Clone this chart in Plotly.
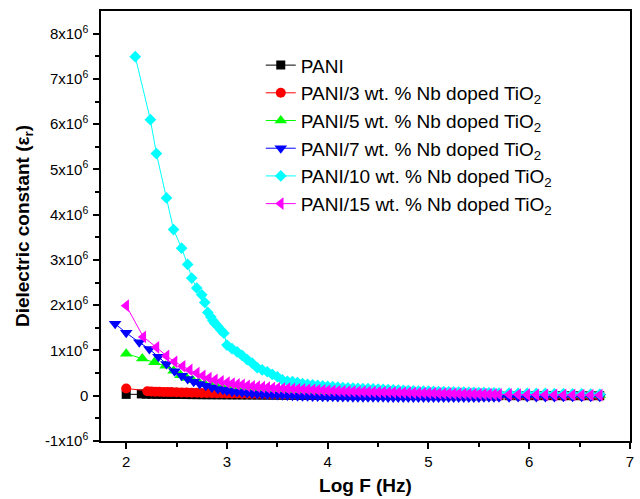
import plotly.graph_objects as go

# y values are in units of 10^6
TAIL_X = [3.00, 3.05, 3.10, 3.15, 3.20, 3.25, 3.30, 3.35, 3.40, 3.45, 3.50,
          3.55, 3.60, 3.65, 3.70, 3.75, 3.80, 3.85, 3.90, 3.95, 4.00, 4.05,
          4.10, 4.15, 4.20, 4.25, 4.30, 4.35, 4.40, 4.45, 4.50, 4.55, 4.60,
          4.65, 4.70, 4.75, 4.80, 4.85, 4.90, 4.95, 5.00, 5.05, 5.10, 5.15,
          5.20, 5.25, 5.30, 5.35, 5.40, 5.45, 5.50, 5.55, 5.60, 5.65, 5.70,
          5.80, 5.89, 5.98, 6.07, 6.16, 6.25, 6.34, 6.43, 6.52, 6.61, 6.70]

pani_x = [2.00, 2.15, 2.20, 2.25, 2.30, 2.35, 2.40, 2.45, 2.50, 2.55, 2.60, 2.65, 2.70, 2.75, 2.80, 2.85, 2.90, 2.95]
pani_y_head = [0.03, 0.04, 0.035, 0.033, 0.032, 0.031, 0.03, 0.029, 0.028, 0.027, 0.026, 0.025, 0.024, 0.023, 0.022, 0.022, 0.021, 0.021]
pani_y_tail = [0.02, 0.02, 0.019, 0.019, 0.018, 0.018, 0.017, 0.017, 0.016, 0.016, 0.015,
               0.015, 0.014, 0.014, 0.013, 0.013, 0.012, 0.012, 0.011, 0.011, 0.01, 0.01,
               0.01, 0.009, 0.009, 0.009, 0.008, 0.008, 0.008, 0.007, 0.007, 0.007, 0.006,
               0.006, 0.006, 0.006, 0.005, 0.005, 0.005, 0.005, 0.004, 0.004, 0.004, 0.004,
               0.003, 0.003, 0.003, 0.003, 0.003, 0.002, 0.002, 0.002, 0.002, 0.002, 0.002,
               0.001, 0.001, 0.001, 0.001, 0.001, 0.001, 0.0, 0.0, 0.0, 0.0, 0.0]

nb3_x = [2.00, 2.21, 2.25, 2.29, 2.33, 2.37, 2.41, 2.45, 2.50, 2.55, 2.60, 2.65, 2.70, 2.75, 2.80, 2.85, 2.90, 2.95]
nb3_y_head = [0.16, 0.10, 0.095, 0.09, 0.088, 0.085, 0.082, 0.08, 0.077, 0.074, 0.071, 0.068, 0.065, 0.062, 0.06, 0.058, 0.056, 0.054]
nb3_y_tail = [0.052, 0.05, 0.048, 0.046, 0.044, 0.042, 0.04, 0.038, 0.036, 0.034, 0.032,
              0.03, 0.029, 0.028, 0.027, 0.026, 0.025, 0.024, 0.023, 0.022, 0.021, 0.02,
              0.019, 0.018, 0.017, 0.016, 0.015, 0.014, 0.013, 0.012, 0.012, 0.011, 0.011,
              0.01, 0.01, 0.009, 0.009, 0.008, 0.008, 0.007, 0.007, 0.006, 0.006, 0.006,
              0.005, 0.005, 0.005, 0.004, 0.004, 0.004, 0.003, 0.003, 0.003, 0.003, 0.002,
              0.002, 0.002, 0.002, 0.002, 0.001, 0.001, 0.001, 0.001, 0.001, 0.0, 0.0]

nb5_x = [2.00, 2.16, 2.28, 2.39, 2.47, 2.54, 2.60, 2.66, 2.72, 2.78, 2.84, 2.90, 2.95]
nb5_y_head = [0.93, 0.82, 0.74, 0.66, 0.55, 0.45, 0.39, 0.34, 0.30, 0.26, 0.23, 0.20, 0.185]
nb5_y_tail = [0.17, 0.16, 0.15, 0.14, 0.135, 0.13, 0.12, 0.115, 0.11, 0.105, 0.10,
              0.097, 0.094, 0.091, 0.088, 0.085, 0.082, 0.08, 0.078, 0.076, 0.074, 0.072,
              0.07, 0.068, 0.066, 0.064, 0.062, 0.06, 0.058, 0.056, 0.054, 0.052, 0.05,
              0.049, 0.048, 0.047, 0.046, 0.045, 0.044, 0.043, 0.042, 0.041, 0.04, 0.039,
              0.038, 0.037, 0.036, 0.035, 0.034, 0.033, 0.032, 0.031, 0.03, 0.029, 0.028,
              0.027, 0.026, 0.025, 0.024, 0.023, 0.022, 0.021, 0.02, 0.019, 0.018, 0.017]

nb7_x = [1.89, 2.00, 2.13, 2.23, 2.32, 2.40, 2.48, 2.55, 2.61, 2.67, 2.73, 2.79, 2.85, 2.91, 2.96]
nb7_y_head = [1.59, 1.39, 1.18, 1.03, 0.86, 0.70, 0.54, 0.44, 0.37, 0.31, 0.26, 0.22, 0.18, 0.15, 0.13]
nb7_y_tail = [0.11, 0.09, 0.08, 0.07, 0.06, 0.05, 0.04, 0.035, 0.03, 0.02, 0.015,
              0.01, 0.005, 0.0, -0.005, -0.01, -0.012, -0.015, -0.018, -0.02, -0.022, -0.025,
              -0.027, -0.028, -0.03, -0.031, -0.032, -0.033, -0.034, -0.035, -0.036, -0.036, -0.037,
              -0.037, -0.038, -0.038, -0.039, -0.039, -0.04, -0.04, -0.04, -0.04, -0.04, -0.04,
              -0.04, -0.04, -0.039, -0.039, -0.038, -0.038, -0.037, -0.036, -0.035, -0.034, -0.033,
              -0.032, -0.03, -0.029, -0.028, -0.027, -0.026, -0.025, -0.024, -0.023, -0.022, -0.02]

nb10_x = [2.09, 2.24, 2.30, 2.40, 2.47, 2.55, 2.61, 2.65, 2.70, 2.75, 2.78, 2.81, 2.84, 2.86, 2.88, 2.91, 2.94, 2.97]
nb10_y_head = [7.49, 6.10, 5.35, 4.37, 3.67, 3.26, 2.90, 2.60, 2.38, 2.23, 2.06, 1.84, 1.74, 1.66, 1.60, 1.53, 1.45, 1.38]
nb10_y_tail = [1.12, 1.04, 0.97, 0.89, 0.80, 0.72, 0.62, 0.57, 0.53, 0.47, 0.42,
               0.35, 0.32, 0.31, 0.29, 0.27, 0.25, 0.24, 0.23, 0.22, 0.21, 0.20,
               0.19, 0.18, 0.175, 0.17, 0.165, 0.16, 0.155, 0.15, 0.145, 0.14, 0.135,
               0.13, 0.125, 0.12, 0.115, 0.11, 0.105, 0.10, 0.10, 0.095, 0.09, 0.09,
               0.085, 0.085, 0.08, 0.08, 0.075, 0.075, 0.07, 0.07, 0.065, 0.065, 0.06,
               0.06, 0.055, 0.055, 0.05, 0.05, 0.045, 0.045, 0.04, 0.04, 0.035, 0.035]

nb15_x = [2.00, 2.17, 2.30, 2.40, 2.48, 2.56, 2.63, 2.70, 2.76, 2.82, 2.88, 2.94]
nb15_y_head = [1.99, 1.30, 1.07, 0.88, 0.75, 0.65, 0.57, 0.50, 0.44, 0.39, 0.35, 0.32]
nb15_y_tail = [0.29, 0.27, 0.25, 0.24, 0.22, 0.21, 0.20, 0.19, 0.18, 0.17, 0.165,
               0.16, 0.155, 0.15, 0.145, 0.14, 0.135, 0.13, 0.125, 0.12, 0.115, 0.11,
               0.105, 0.10, 0.098, 0.095, 0.092, 0.09, 0.087, 0.085, 0.082, 0.08, 0.077,
               0.075, 0.072, 0.07, 0.067, 0.065, 0.062, 0.06, 0.058, 0.056, 0.054, 0.052,
               0.05, 0.048, 0.046, 0.044, 0.042, 0.04, 0.038, 0.036, 0.034, 0.032, 0.03,
               0.028, 0.026, 0.024, 0.022, 0.02, 0.019, 0.018, 0.017, 0.016, 0.015, 0.014]

names = ["PANI",
         "PANI/3 wt. % Nb doped TiO<sub>2</sub>",
         "PANI/5 wt. % Nb doped TiO<sub>2</sub>",
         "PANI/7 wt. % Nb doped TiO<sub>2</sub>",
         "PANI/10 wt. % Nb doped TiO<sub>2</sub>",
         "PANI/15 wt. % Nb doped TiO<sub>2</sub>"]

y_tickvals = [-1, 0, 1, 2, 3, 4, 5, 6, 7, 8]
y_ticktext = ["-1x10<sup>6</sup>", "0", "1x10<sup>6</sup>", "2x10<sup>6</sup>", "3x10<sup>6</sup>",
              "4x10<sup>6</sup>", "5x10<sup>6</sup>", "6x10<sup>6</sup>", "7x10<sup>6</sup>", "8x10<sup>6</sup>"]
x_tickvals = [2, 3, 4, 5, 6, 7]

series = [
    (pani_x, pani_y_head, pani_y_tail, "#000000", "square", 9),
    (nb3_x, nb3_y_head, nb3_y_tail, "#FF0000", "circle", 10),
    (nb5_x, nb5_y_head, nb5_y_tail, "#00FF00", "triangle-up", 11),
    (nb7_x, nb7_y_head, nb7_y_tail, "#0000FF", "triangle-down", 11),
    (nb10_x, nb10_y_head, nb10_y_tail, "#00FFFF", "diamond", 9),
    (nb15_x, nb15_y_head, nb15_y_tail, "#FF00FF", "triangle-left", 11),
]

FONT = "Arial, 'Liberation Sans', sans-serif"

fig = go.Figure()
for (hx, hy, ty, col, sym, sz), nm in zip(series, names):
    fig.add_trace(go.Scatter(
        x=list(hx) + TAIL_X, y=list(hy) + list(ty), name=nm, mode="lines+markers",
        line=dict(color=col, width=1),
        marker=dict(color=col, symbol=sym, size=sz, line=dict(width=0)),
    ))

fig.update_layout(
    width=640, height=499,
    margin=dict(l=101, r=10, t=11, b=58),
    paper_bgcolor="white", plot_bgcolor="white",
    font=dict(family=FONT, color="black", size=15),
    showlegend=True,
    legend=dict(x=0.302, y=0.918, xanchor="left", yanchor="top",
                bgcolor="rgba(0,0,0,0)", font=dict(size=19, family=FONT),
                tracegroupgap=0, itemwidth=30),
)
fig.update_xaxes(
    range=[1.75, 7], tickmode="array", tickvals=x_tickvals, automargin=False,
    ticks="outside", ticklen=6, tickwidth=1.5, tickcolor="black",
    showline=True, linecolor="black", linewidth=1.5, mirror=True,
    showgrid=False, zeroline=False,
    tickfont=dict(size=15),
    minor=dict(tickmode="array", tickvals=[2.5, 3.5, 4.5, 5.5, 6.5], ticks="outside",
               ticklen=4, tickwidth=1.5, tickcolor="black", showgrid=False),
    title=dict(text="<b>Log F (Hz)</b>", font=dict(size=19), standoff=10),
)
fig.update_yaxes(
    range=[-1.0, 8.5], tickmode="array", tickvals=y_tickvals, ticktext=y_ticktext, automargin=False,
    ticks="outside", ticklen=6, tickwidth=1.5, tickcolor="black",
    showline=True, linecolor="black", linewidth=1.5, mirror=True,
    showgrid=False, zeroline=False,
    tickfont=dict(size=15), ticklabelstandoff=2,
    minor=dict(tickmode="array", tickvals=[-0.5, 0.5, 1.5, 2.5, 3.5, 4.5, 5.5, 6.5, 7.5],
               ticks="outside", ticklen=4, tickwidth=1.5, tickcolor="black", showgrid=False),
    title=dict(text="<b>Dielectric constant (ε<sub>r</sub>)</b>", font=dict(size=19), standoff=10),
)

fig.write_html("out.html")
